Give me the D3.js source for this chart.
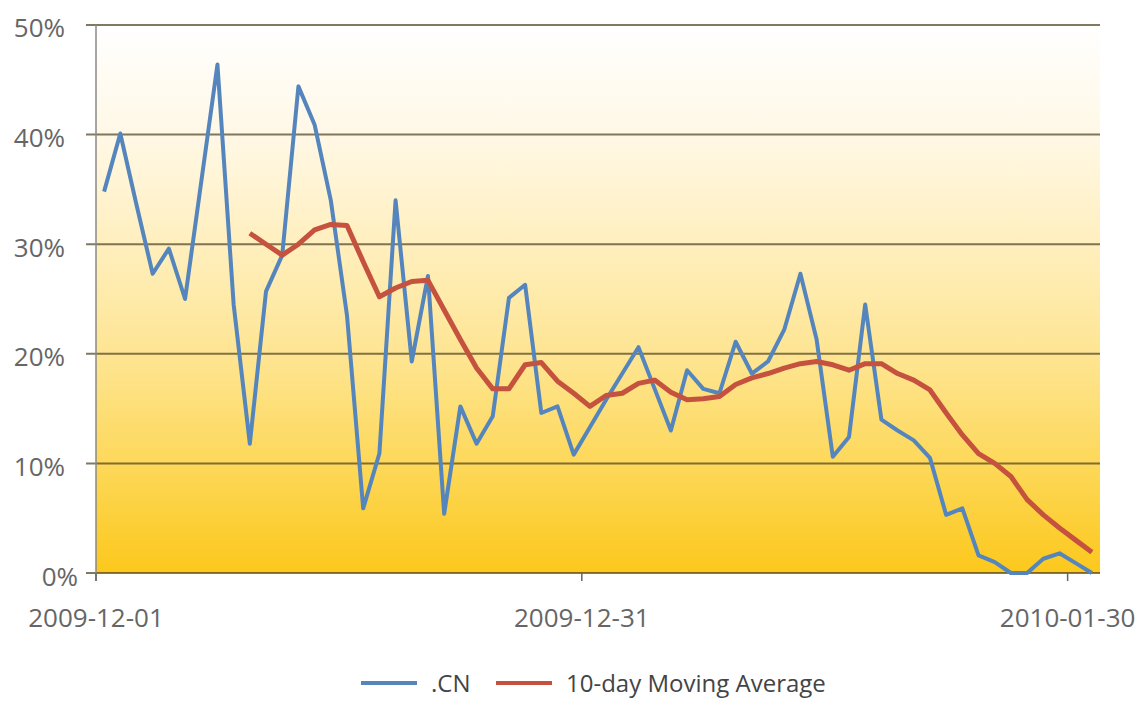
<!DOCTYPE html>
<html>
<head>
  <title>.CN share with 10-day moving average</title>
  <script src="https://d3js.org/d3.v7.min.js"></script>
  <style>
    body { margin: 0; background: #fff; }
    text { font-family: "Open Sans", sans-serif; }
  </style>
</head>
<body>
  <div id="chart"></div>
  <script>
    // daily share, 2009-12-01 .. 2010-01-31 (percent)
    const startDay = "2009-12-01";
    const cnValues = [
      34.8, 40.1, 33.6, 27.3, 29.6, 25.0, 35.7, 46.4, 24.5, 11.8,
      25.7, 29.0, 44.4, 40.9, 34.0, 23.5, 5.9, 10.9, 34.0, 19.3,
      27.1, 5.4, 15.2, 11.8, 14.3, 25.1, 26.3, 14.6, 15.2, 10.8,
      13.3, 15.8, 18.2, 20.6, 16.8, 13.0, 18.5, 16.8, 16.4, 21.1,
      18.2, 19.3, 22.2, 27.3, 21.3, 10.6, 12.4, 24.5, 14.0, 13.0,
      12.1, 10.5, 5.3, 5.9, 1.6, 1.0, 0, 0, 1.3, 1.8,
      0.9, 0
    ];
    const maValues = [
      null, null, null, null, null, null, null, null, null, 31.0,
      30.0, 29.0, 30.0, 31.3, 31.8, 31.7, 28.4, 25.2, 26.0, 26.6,
      26.7, 24.0, 21.3, 18.7, 16.8, 16.8, 19.0, 19.2, 17.5, 16.4,
      15.2, 16.2, 16.4, 17.3, 17.6, 16.5, 15.8, 15.9, 16.1, 17.2,
      17.8, 18.2, 18.7, 19.1, 19.3, 19.0, 18.5, 19.1, 19.1, 18.2,
      17.6, 16.7, 14.6, 12.6, 10.9, 10.0, 8.8, 6.7, 5.3, 4.1,
      3.0, 1.9
    ];
    const yTicks = [0, 10, 20, 30, 40, 50];
    const xTickLabels = ["2009-12-01", "2009-12-31", "2010-01-30"];
    const seriesNames = [".CN", "10-day Moving Average"];
    const seriesColors = ["#5585bd", "#c4523f"];

    const parse = d3.timeParse("%Y-%m-%d");
    const start = parse(startDay);
    const days = cnValues.map((v, i) => d3.timeDay.offset(start, i));

    const W = 1144, H = 722;
    const plotL = 96, plotR = 1100, plotT = 25, plotB = 573;

    const svg = d3.select("#chart").append("svg")
      .attr("width", W).attr("height", H);

    const x = d3.scaleTime()
      .domain([start, d3.timeDay.offset(start, cnValues.length)])
      .range([plotL, plotR]);
    const y = d3.scaleLinear().domain([0, 50]).range([plotB, plotT]);
    const mid = d => d3.timeHour.offset(d, 12);

    // plot background
    const grad = svg.append("defs").append("linearGradient")
      .attr("id", "bg").attr("x1", 0).attr("y1", 0).attr("x2", 0).attr("y2", 1);
    [[0, "#ffffff"], [0.2, "#fff8e6"], [0.4, "#ffefbe"], [0.6, "#fee593"],
     [0.8, "#fdd85a"], [1, "#fcc81c"]].forEach(s =>
      grad.append("stop").attr("offset", s[0]).attr("stop-color", s[1]));

    svg.append("rect")
      .attr("x", plotL).attr("y", plotT)
      .attr("width", plotR - plotL).attr("height", plotB - plotT)
      .attr("fill", "url(#bg)");

    // gridlines + left ticks
    svg.append("g").selectAll("line").data(yTicks).join("line")
      .attr("x1", plotL - 10).attr("x2", plotR)
      .attr("y1", d => y(d)).attr("y2", d => y(d))
      .attr("stroke", "#4a4020").attr("stroke-opacity", 0.7).attr("stroke-width", 2);

    // left axis line
    svg.append("line")
      .attr("x1", plotL).attr("x2", plotL).attr("y1", plotT).attr("y2", plotB + 8)
      .attr("stroke", "#888").attr("stroke-width", 1.5);

    // y labels
    svg.append("g").selectAll("text").data(yTicks).join("text")
      .attr("x", d => d === 0 ? plotL - 18 : plotL - 31)
      .attr("y", d => y(d) + (d === 0 ? 4 : 3))
      .attr("dy", "0.36em")
      .attr("text-anchor", "end")
      .attr("font-size", 26)
      .attr("fill", "#666")
      .text(d => d + "%");

    // x ticks and labels
    const xt = svg.append("g").selectAll("g").data(xTickLabels).join("g")
      .attr("transform", d => `translate(${x(parse(d))},0)`);
    xt.append("line")
      .attr("y1", plotB).attr("y2", plotB + 8)
      .attr("stroke", "#666").attr("stroke-width", 1.5);
    xt.append("text")
      .attr("y", 627)
      .attr("text-anchor", "middle")
      .attr("font-size", 26)
      .attr("fill", "#666")
      .text(d => d);

    // series
    const line = d3.line()
      .defined(d => d.v != null)
      .x(d => x(mid(d.day)))
      .y(d => y(d.v));

    const cnData = days.map((day, i) => ({ day, v: cnValues[i] }));
    const maData = days.map((day, i) => ({ day, v: maValues[i] }));

    svg.append("path").datum(cnData)
      .attr("fill", "none").attr("stroke", seriesColors[0])
      .attr("stroke-width", 4).attr("stroke-linejoin", "round")
      .attr("d", line);
    svg.append("path").datum(maData)
      .attr("fill", "none").attr("stroke", seriesColors[1])
      .attr("stroke-width", 5).attr("stroke-linejoin", "round")
      .attr("d", line);

    // legend
    const legendItems = [
      { name: seriesNames[0], color: seriesColors[0], x0: 361 },
      { name: seriesNames[1], color: seriesColors[1], x0: 496 }
    ];
    const lg = svg.append("g").selectAll("g").data(legendItems).join("g")
      .attr("transform", d => `translate(${d.x0},683)`);
    lg.append("line")
      .attr("x1", 0).attr("x2", 56)
      .attr("stroke", d => d.color).attr("stroke-width", 4);
    lg.append("text")
      .attr("x", 70).attr("dy", "0.36em")
      .attr("font-size", 24).attr("fill", "#444")
      .text(d => d.name);
  </script>
</body>
</html>
